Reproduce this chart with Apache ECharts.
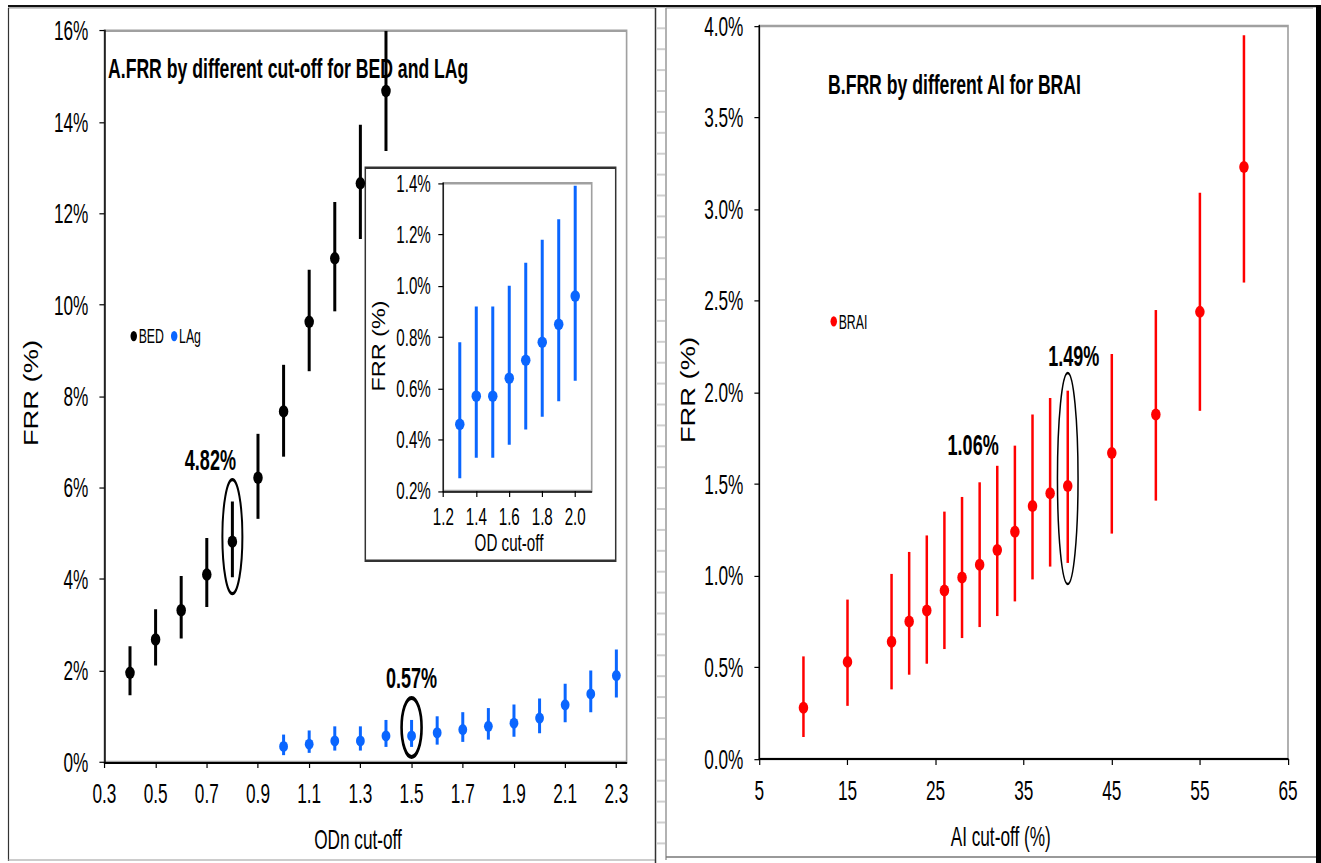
<!DOCTYPE html>
<html>
<head>
<meta charset="utf-8">
<script src="https://cdn.jsdelivr.net/npm/echarts@6/dist/echarts.min.js"></script>
<style>
html,body{margin:0;padding:0;background:#fff;overflow:hidden;}
#wrap{width:1321px;height:863px;overflow:hidden;position:relative;}
#c{transform-origin:0 0;}
</style>
</head>
<body>
<div id="wrap"><div id="c"></div></div>
<script>
// ---------------- data ----------------
const odnTicks = [0.3, 0.5, 0.7, 0.9, 1.1, 1.3, 1.5, 1.7, 1.9, 2.1, 2.3];
const odTicksInset = [1.2, 1.4, 1.6, 1.8, 2.0];
const aiTicks = [5, 15, 25, 35, 45, 55, 65];

const bedX  = [0.4, 0.5, 0.6, 0.7, 0.8, 0.9, 1.0, 1.1, 1.2, 1.3, 1.4];
const bedY  = [1.95, 2.68, 3.32, 4.10, 4.82, 6.22, 7.67, 9.63, 11.02, 12.66, 14.68];
const bedLo = [1.46, 2.11, 2.70, 3.39, 4.04, 5.32, 6.68, 8.55, 9.86, 11.44, 13.37];
const bedHi = [2.53, 3.34, 4.07, 4.90, 5.70, 7.18, 8.69, 10.77, 12.25, 13.94, 16.0];

const lagX  = [1.0, 1.1, 1.2, 1.3, 1.4, 1.5, 1.6, 1.7, 1.8, 1.9, 2.0, 2.1, 2.2, 2.3];
const lagY  = [0.34, 0.39, 0.46, 0.46, 0.57, 0.57, 0.64, 0.71, 0.78, 0.85, 0.96, 1.25, 1.49, 1.89];
const lagLo = [0.15, 0.20, 0.25, 0.25, 0.33, 0.33, 0.38, 0.44, 0.49, 0.55, 0.63, 0.87, 1.09, 1.41];
const lagHi = [0.60, 0.69, 0.78, 0.78, 0.92, 0.92, 1.00, 1.09, 1.18, 1.26, 1.39, 1.71, 2.00, 2.46];
const insetRange = [1.3, 2.0];

const aiX  = [10, 15, 20, 22, 24, 26, 28, 30, 32, 34, 36, 38, 40, 45, 50, 55, 60];
const aiY  = [0.28, 0.53, 0.64, 0.75, 0.81, 0.92, 0.99, 1.06, 1.14, 1.24, 1.38, 1.45, 1.49, 1.67, 1.88, 2.44, 3.23];
const aiLo = [0.12, 0.29, 0.38, 0.46, 0.52, 0.60, 0.66, 0.72, 0.78, 0.86, 0.98, 1.05, 1.07, 1.23, 1.41, 1.90, 2.60];
const aiHi = [0.56, 0.87, 1.01, 1.13, 1.22, 1.35, 1.43, 1.51, 1.60, 1.71, 1.88, 1.97, 2.01, 2.21, 2.45, 3.09, 3.95];

const highlightBED = 0.8;   // circled, labelled
const highlightLAg = 1.5;   // circled, labelled
const highlightAI  = 40;    // circled, labelled
const labelledAI   = 30;    // labelled only

// ---------------- layout helpers ----------------
// The figure is drawn condensed horizontally and stretched vertically
const W = 1611, H = 664;
const KX = 1321 / W, S = 863 / H;
const host = document.getElementById('c');
host.style.width = W + 'px';
host.style.height = H + 'px';
host.style.transform = 'scale(' + KX + ',' + S + ')';
const X = v => v / KX;
const Y = v => v / S;

const FONT = "'Liberation Sans',Arial,sans-serif";
const BLUE = '#0A66FF', RED = '#FF0000', BLACK = '#000000';
const ELL = 'path://M0,-1A1,1,0,1,1,0,1A1,1,0,1,1,0,-1Z';

const pack = (xs, ys, lo, hi) => xs.map((x, i) => [x, ys[i], lo[i], hi[i]]);
const bedData = pack(bedX, bedY, bedLo, bedHi);
const lagData = pack(lagX, lagY, lagLo, lagHi);
const lagInset = lagData.filter(d => d[0] >= insetRange[0] - 1e-9 && d[0] <= insetRange[1] + 1e-9);
const aiData = pack(aiX, aiY, aiLo, aiHi);
const pick = (data, x) => data.find(d => Math.abs(d[0] - x) < 1e-9);

function errBarSeries(name, data, xi, yi, color, width) {
  return {
    type: 'custom', name: name, xAxisIndex: xi, yAxisIndex: yi, z: 2, clip: true, silent: true,
    data: data,
    renderItem: function (params, api) {
      const a = api.coord([api.value(0), api.value(2)]);
      const b = api.coord([api.value(0), api.value(3)]);
      return { type: 'line', shape: { x1: a[0], y1: a[1], x2: b[0], y2: b[1] },
               style: { stroke: color, lineWidth: X(width) } };
    }
  };
}
function pointSeries(name, data, xi, yi, color, w, h) {
  return {
    type: 'scatter', name: name, xAxisIndex: xi, yAxisIndex: yi, z: 3,
    symbol: ELL, symbolSize: [X(w), Y(h)], itemStyle: { color: color, opacity: 1 },
    data: data.map(d => [d[0], d[1]]), silent: true
  };
}
function ellipseSeries(point, xi, yi, rx, ry, dy, lw) {
  return {
    type: 'custom', xAxisIndex: xi, yAxisIndex: yi, z: 4, silent: true,
    data: [[point[0], point[1]]],
    renderItem: function (params, api) {
      const c = api.coord([api.value(0), api.value(1)]);
      return { type: 'ellipse', shape: { cx: c[0], cy: c[1] + Y(dy), rx: X(rx), ry: Y(ry) },
               style: { fill: 'none', stroke: '#000', lineWidth: X(lw) } };
    }
  };
}
function calloutSeries(point, xi, yi, dx, dy) {
  return {
    type: 'custom', xAxisIndex: xi, yAxisIndex: yi, z: 5, silent: true,
    data: [[point[0], point[1]]],
    renderItem: function (params, api) {
      const c = api.coord([api.value(0), api.value(1)]);
      return { type: 'text',
               style: { text: api.value(1).toFixed(2) + '%', x: c[0] + X(dx), y: c[1] + Y(dy),
                        fill: '#000', fontFamily: FONT, fontWeight: 'bold', fontSize: 22,
                        align: 'center', verticalAlign: 'middle' } };
    }
  };
}

function valueXAxis(grid, min, max, ticks, decimals, fontSize, margin, name, nameGap, nameSize, namePadRight, lineW) {
  return {
    type: 'value', gridIndex: grid, min: min, max: max,
    splitLine: { show: false },
    axisLine: { show: true, onZero: false, lineStyle: { color: '#000', width: Y(lineW) } },
    axisTick: { show: true, inside: false, length: Y(6), customValues: ticks, lineStyle: { color: '#000', width: X(1.2) } },
    axisLabel: { customValues: ticks, formatter: v => v.toFixed(decimals),
                 fontFamily: FONT, fontSize: fontSize, color: '#000', margin: Y(margin) },
    name: name, nameLocation: 'middle', nameGap: Y(nameGap),
    nameTextStyle: { fontFamily: FONT, fontSize: nameSize, color: '#000', padding: [0, X(namePadRight), 0, 0] }
  };
}
function valueYAxis(grid, min, max, interval, decimals, fontSize, margin, lineW) {
  return {
    type: 'value', gridIndex: grid, min: min, max: max, interval: interval,
    splitLine: { show: false },
    axisLine: { show: true, onZero: false, lineStyle: { color: '#000', width: X(lineW) } },
    axisTick: { show: true, inside: false, length: X(5), lineStyle: { color: '#000', width: Y(1.2) } },
    axisLabel: { formatter: v => v.toFixed(decimals) + '%', fontFamily: FONT, fontSize: fontSize,
                 color: '#000', margin: X(margin) }
  };
}

// ---------------- frames & rotated axis titles ----------------
const els = [];
const hLine = (x1, x2, y, color, w) => els.push({ type: 'line', z: -1, silent: true,
  shape: { x1: X(x1), y1: Y(y), x2: X(x2), y2: Y(y) }, style: { stroke: color, lineWidth: Y(w) } });
const vLine = (x, y1, y2, color, w) => els.push({ type: 'line', z: -1, silent: true,
  shape: { x1: X(x), y1: Y(y1), x2: X(x), y2: Y(y2) }, style: { stroke: color, lineWidth: X(w) } });
els.push({ type: 'rect', z: -1, silent: true, shape: { x: X(8), y: Y(5), width: X(1308), height: Y(2.2) }, style: { fill: '#111' } });
hLine(8, 655, 8, '#9a9a9a', 1.2);
hLine(666, 1313, 8, '#9a9a9a', 1.2);
vLine(8.5, 8, 861, '#333', 1.2);
hLine(8, 655, 860, '#9a9a9a', 1.2);
vLine(655.5, 8, 863, '#333', 1.5);
for (let y = 28.3; y < 860; y += 20.9) hLine(656.5, 665, y, '#cfcfcf', 2);
vLine(666, 8, 860, '#999', 1.5);
hLine(666, 1316, 857, '#777', 1.5);
els.push({ type: 'rect', z: -1, silent: true, shape: { x: X(1316), y: Y(5), width: X(5), height: Y(858) }, style: { fill: '#000' } });
els.push({ type: 'rect', z: -1, silent: true, shape: { x: X(365.3), y: Y(167.7), width: X(250.4), height: Y(393) },
  style: { fill: '#fff', stroke: '#333', lineWidth: X(1.5) } });
// rotated y-axis titles, un-condensed across their height
const yTitle = (cx, cy, size) => els.push({ type: 'text', z: 10, silent: true,
  x: X(cx), y: Y(cy), rotation: Math.PI / 2, scaleY: 1 / KX,
  style: { text: 'FRR (%)', fill: '#000', fontFamily: FONT, fontSize: size, align: 'center', verticalAlign: 'middle' } });
yTitle(30.5, 393, 21);
yTitle(688, 390, 21);
yTitle(378.5, 346, 18);

// ---------------- option ----------------
const option = {
  animation: false,
  backgroundColor: '#ffffff',
  textStyle: { fontFamily: FONT },
  title: [
    { text: 'A.FRR by different cut-off for BED and LAg', left: X(108), top: Y(54),
      textStyle: { fontFamily: FONT, fontWeight: 'bold', fontSize: 21.5, color: '#000' }, padding: 0 },
    { text: 'B.FRR by different AI for BRAI', left: X(828), top: Y(70),
      textStyle: { fontFamily: FONT, fontWeight: 'bold', fontSize: 21.5, color: '#000' }, padding: 0 }
  ],
  legend: [
    { data: ['BED', 'LAg'], left: X(130.5), top: Y(338) - 9, orient: 'horizontal', icon: ELL,
      itemWidth: X(6.5), itemHeight: Y(10.5), itemGap: X(7), padding: 0, selectedMode: false,
      textStyle: { fontFamily: FONT, fontSize: 15, color: '#000', padding: [0, 0, 0, -3] } },
    { data: ['BRAI'], left: X(830.5), top: Y(323.3) - 9, icon: ELL, itemWidth: X(6.5), itemHeight: Y(10.5),
      padding: 0, selectedMode: false,
      textStyle: { fontFamily: FONT, fontSize: 15, color: '#000', padding: [0, 0, 0, -3] } }
  ],
  grid: [
    { left: X(104.4), top: Y(30.7), width: X(522.2), height: Y(731.3), show: true, borderColor: '#a0a0a0', borderWidth: 2, backgroundColor: 'transparent' },
    { left: X(443.3), top: Y(183.3), width: X(148.4), height: Y(307.7), show: true, borderColor: '#a0a0a0', borderWidth: 2, backgroundColor: 'transparent' },
    { left: X(759.4), top: Y(26), width: X(528.6), height: Y(733), show: true, borderColor: '#a0a0a0', borderWidth: 2, backgroundColor: 'transparent' }
  ],
  xAxis: [
    valueXAxis(0, 0.3, 2.34, odnTicks, 1, 21, 18, 'ODn cut-off', 64, 21, 15, 2),
    valueXAxis(1, 1.2, 2.1, odTicksInset, 1, 18.5, 13, 'OD cut-off', 38, 18.5, 17, 1.5),
    valueXAxis(2, 5, 65, aiTicks, 0, 21, 18, 'AI cut-off (%)', 64, 21, 46, 2)
  ],
  yAxis: [
    valueYAxis(0, 0, 16, 2, 0, 21, 16, 1.5),
    valueYAxis(1, 0.2, 1.4, 0.2, 1, 18.5, 12.5, 1.2),
    valueYAxis(2, 0, 4, 0.5, 1, 21, 16, 1.5)
  ],
  graphic: { elements: els },
  series: [
    errBarSeries('BED CI', bedData, 0, 0, BLACK, 3),
    pointSeries('BED', bedData, 0, 0, BLACK, 9.5, 12.5),
    errBarSeries('LAg CI', lagData, 0, 0, BLUE, 3),
    pointSeries('LAg', lagData, 0, 0, BLUE, 8.8, 11),
    ellipseSeries(pick(bedData, highlightBED), 0, 0, 10, 57, -5, 2),
    ellipseSeries(pick(lagData, highlightLAg), 0, 0, 10, 29.5, -8.5, 2.6),
    calloutSeries(pick(bedData, highlightBED), 0, 0, -22, -82),
    calloutSeries(pick(lagData, highlightLAg), 0, 0, 0, -58),

    errBarSeries('LAg inset CI', lagInset, 1, 1, BLUE, 3),
    pointSeries('LAg inset', lagInset, 1, 1, BLUE, 9.5, 11.5),

    errBarSeries('BRAI CI', aiData, 2, 2, RED, 2.5),
    pointSeries('BRAI', aiData, 2, 2, RED, 9.5, 12),
    ellipseSeries(pick(aiData, highlightAI), 2, 2, 10.3, 105.5, -7.5, 1.5),
    calloutSeries(pick(aiData, highlightAI), 2, 2, 6, -130),
    calloutSeries(pick(aiData, labelledAI), 2, 2, -6.5, -120)
  ]
};

const chart = echarts.init(host, null, { renderer: 'svg', width: W, height: H });
chart.setOption(option);
</script>
</body>
</html>
